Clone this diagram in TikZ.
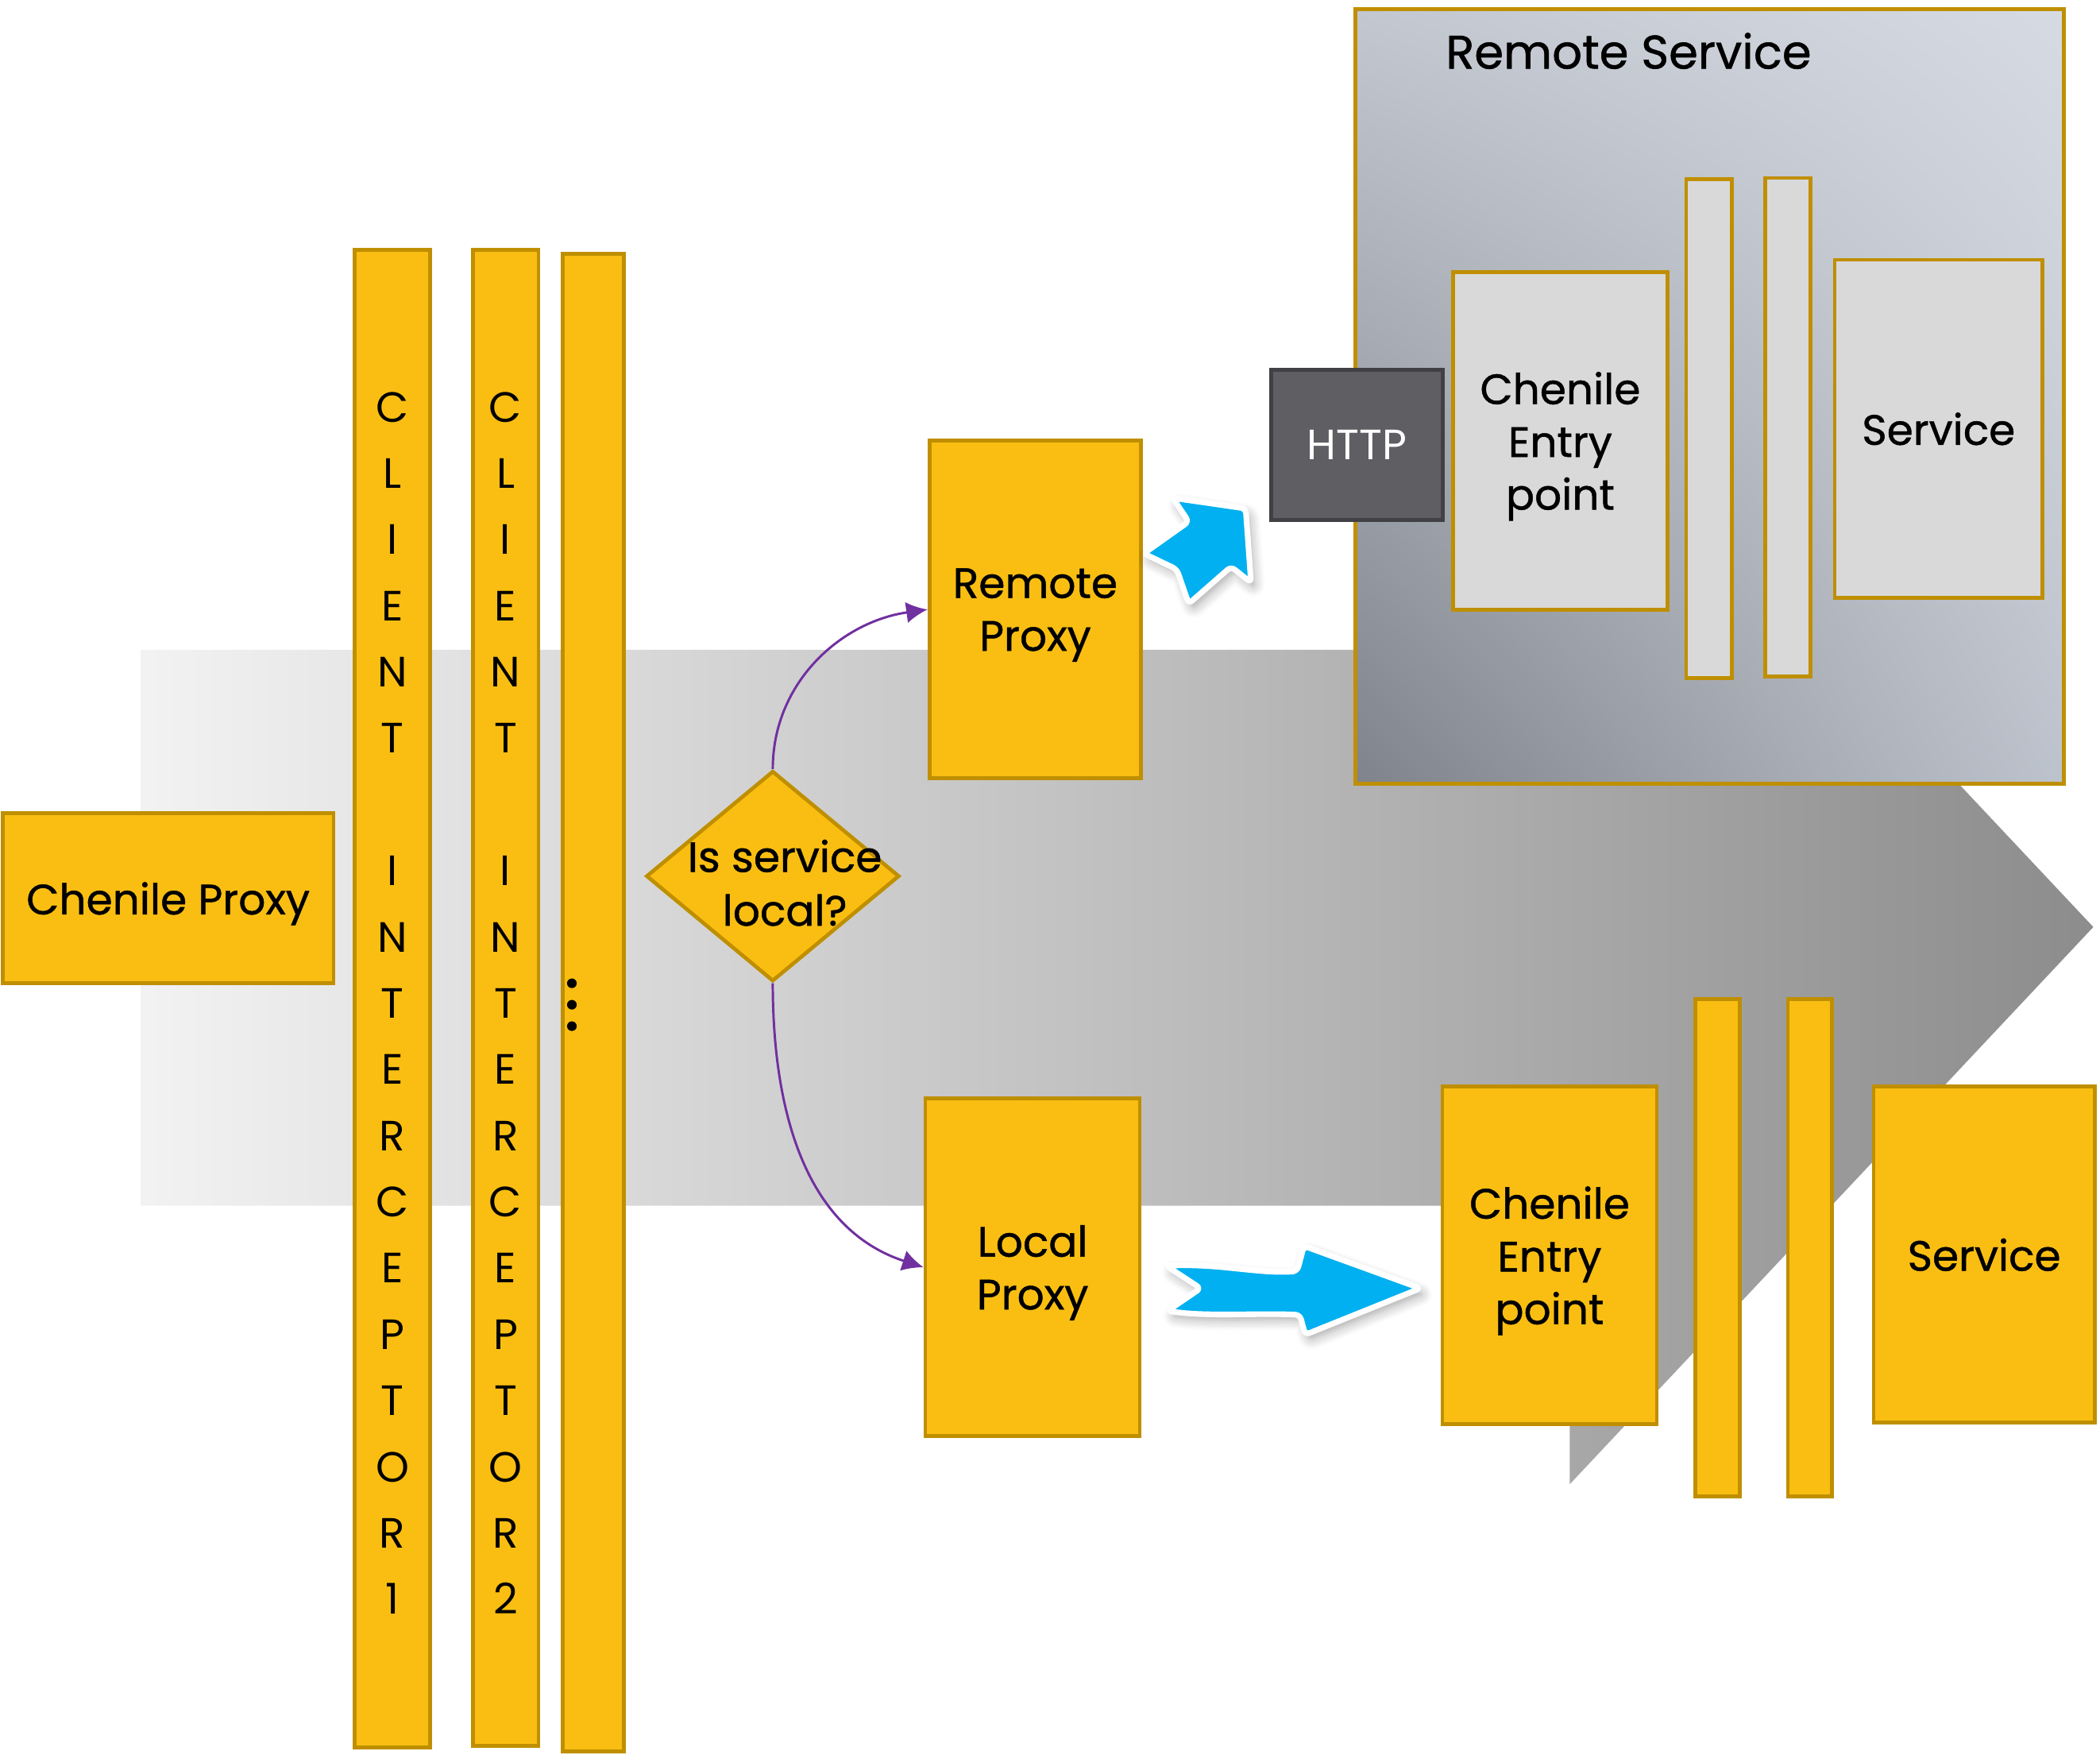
\documentclass[tikz,border=0pt]{standalone}
\usepackage{fontspec}
\setmainfont{Poppins}[FakeBold=0.9]
\newfontfamily\bookfont{Poppins}
\usetikzlibrary{shapes.geometric,arrows.meta,shadows.blur,shadings}

\definecolor{gold}{HTML}{F9BE11}
\definecolor{goldline}{HTML}{BF8F00}
\definecolor{boxgray}{HTML}{D9D9D9}
\definecolor{httpgray}{HTML}{5F5E63}
\definecolor{httpline}{HTML}{404045}
\definecolor{callpurple}{HTML}{7030A0}
\definecolor{skyblue}{HTML}{00B0F0}
\definecolor{rsul}{HTML}{C2C7D0}
\definecolor{rsur}{HTML}{D6DBE3}
\definecolor{rsll}{HTML}{7F838B}
\definecolor{rslr}{HTML}{BDC3CC}

\tikzset{
  goldbox/.style={draw=goldline,fill=gold,line width=0.8pt,inner sep=0pt,align=center,text depth=0pt,
    font=\fontsize{9}{11.2}\selectfont},
  graybox/.style={goldbox,fill=boxgray},
  letter/.style={anchor=base,inner sep=0pt,font=\bookfont\fontsize{9}{9}\selectfont},
  conn/.style={callpurple,line width=0.5pt,-{Latex[length=4.5pt,width=4.5pt]}},
  bluearrow/.style={fill=skyblue,draw=white,line width=1.2pt,rounded corners=1pt,
    blur shadow={shadow xshift=0.8pt,shadow yshift=-1.2pt,shadow blur steps=6,shadow opacity=35}}
}

\begin{document}
\begin{tikzpicture}[x=0.01cm,y=-0.01cm]
\useasboundingbox (0,0) rectangle (1568,1310);
% big grey arrow behind everything
\shade[left color=black!5,right color=black!45] (105,485) -- (1172,485) -- (1172,276) -- (1563,692) -- (1172,1108) -- (1172,900) -- (105,900) -- cycle;

% client side
\node[goldbox,minimum width=2.47cm,minimum height=1.27cm] (cproxy) at (125.5,670.5) {Chenile Proxy};
\node[goldbox,minimum width=0.56cm,minimum height=11.17cm] (icpt1) at (293,745.5) {};
\node[goldbox,minimum width=0.49cm,minimum height=11.16cm] (icpt2) at (377.5,745) {};
\node[goldbox,minimum width=0.46cm,minimum height=11.17cm] (icpt3) at (443,748.5) {};
\foreach \bx/\num in {293/1,377.5/2}{
  \foreach \ch [count=\i] in {C,L,I,E,N,T,{},I,N,T,E,R,C,E,P,T,O,R,\num}
    \node[letter] (ci\num-\i) at (\bx,{315+(\i-1)*49.44}) {\ch};
}
\foreach \dy in {734,750,766} \fill (427,\dy) circle (3.6);  % more interceptors

% decision
\node[diamond,draw=goldline,fill=gold,line width=0.8pt,inner sep=0pt,minimum width=1.89cm,minimum height=1.57cm] (dia) at (577,654) {};
\node[align=center,inner sep=0pt,font=\fontsize{9}{11.4}\selectfont] (dialbl) at (586,659) {Is service\\local?};

\node[goldbox,minimum width=1.58cm,minimum height=2.52cm] (rproxy) at (773,455) {Remote\\Proxy};
\node[goldbox,minimum width=1.60cm,minimum height=2.52cm] (lproxy) at (771,946) {Local\\Proxy};
\draw[conn] (dia.north) to[out=90,in=188] (rproxy.west);
\draw[conn] (dia.south) to[out=-90,in=162] (lproxy.west);

% remote service
\node[draw=goldline,line width=0.8pt,minimum width=5.29cm,minimum height=5.78cm,
  upper left=rsul,upper right=rsur,lower left=rsll,lower right=rslr] (rsvc) at (1276.5,296) {};
\node[font=\fontsize{10}{12}\selectfont,inner sep=0pt] (rsvctitle) at (1216,38) {Remote Service};
\node[draw=httpline,fill=httpgray,line width=0.8pt,text=white,minimum width=1.28cm,minimum height=1.12cm,
  font=\bookfont\fontsize{9}{11}\selectfont] (http) at (1013,332) {HTTP};
\node[graybox,minimum width=1.60cm,minimum height=2.52cm] (rentry) at (1165,329) {Chenile\\Entry\\point};
\node[graybox,minimum width=0.34cm,minimum height=3.72cm] (rbar1) at (1276,320) {};
\node[graybox,minimum width=0.34cm,minimum height=3.72cm] (rbar2) at (1335,319) {};
\node[graybox,minimum width=1.55cm,minimum height=2.52cm] (rservice) at (1447.5,320) {Service};

% local service
\node[goldbox,minimum width=1.60cm,minimum height=2.52cm] (lentry) at (1157,937) {Chenile\\Entry\\point};
\node[goldbox,minimum width=0.33cm,minimum height=3.71cm] (lbar1) at (1282.5,931.5) {};
\node[goldbox,minimum width=0.33cm,minimum height=3.71cm] (lbar2) at (1351.5,931.5) {};
\node[goldbox,minimum width=1.65cm,minimum height=2.51cm] (lservice) at (1481.5,936.5) {Service};

% blue call arrows
\fill[bluearrow] (875.7,371.7) -- (930.1,379.6) -- (934.1,434.9) -- (919.2,423.0) -- (887.6,450.7)
  -- (878.7,425.0) -- (854.0,413.2) -- (887.6,389.4) -- cycle;
\fill[bluearrow] (870.8,944.9) .. controls (910,943) and (940,951) .. (968.6,948.9) -- (973.6,930.1)
  -- (1060.6,961.7) -- (974.6,996.3) -- (970.6,981.5) .. controls (940,980) and (900,983) .. (871.8,978.5)
  -- (896.5,961.7) -- cycle;
\end{tikzpicture}
\end{document}
